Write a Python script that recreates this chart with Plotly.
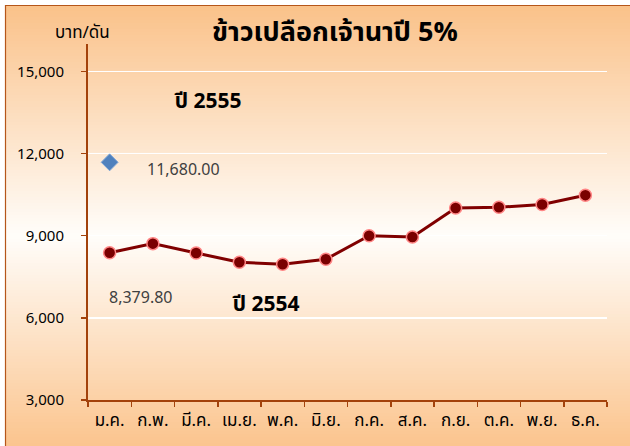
import plotly.graph_objects as go

months = ["ม.ค.", "ก.พ.", "มี.ค.", "เม.ย.", "พ.ค.", "มิ.ย.", "ก.ค.", "ส.ค.", "ก.ย.", "ต.ค.", "พ.ย.", "ธ.ค."]
price_2554 = [8379.80, 8710, 8370, 8030, 7960, 8140, 9000, 8950, 10010, 10040, 10140, 10480]
price_2555 = [11680.00]
y_ticks = [3000, 6000, 9000, 12000, 15000]

W, H = 630, 446
L, R, T, B = 88, 607, 44, 400  # plot area in pixels


def px(x):
    return (x - L) / (R - L)


def py(y):
    return (B - y) / (B - T)


def hex2rgb(h):
    h = h.lstrip('#')
    return tuple(int(h[i:i + 2], 16) for i in (0, 2, 4))


stops = [(0.0, '#FAC28A'), (0.52, '#FFFDFA'), (1.0, '#FBC48D')]


def grad(t):
    for (a, ca), (b, cb) in zip(stops[:-1], stops[1:]):
        if a <= t <= b:
            f = (t - a) / (b - a)
            c1, c2 = hex2rgb(ca), hex2rgb(cb)
            return 'rgb(%d,%d,%d)' % tuple(round(c1[i] + (c2[i] - c1[i]) * f) for i in range(3))
    return stops[-1][1]


shapes = []
top_px, bot_px = 5, H
step = 3
y = top_px
while y < bot_px:
    t = (y - top_px) / (bot_px - top_px)
    shapes.append(dict(type='rect', xref='paper', yref='paper', layer='below',
                       x0=px(5), x1=px(W + 2), y0=py(min(y + step + 0.5, bot_px)), y1=py(y),
                       fillcolor=grad(t), line=dict(width=0)))
    y += step
# outer chart border (left and top)
shapes.append(dict(type='path', xref='paper', yref='paper', layer='below',
                   path='M %f %f L %f %f L %f %f' % (px(5.5), py(H + 2), px(5.5), py(5.5), px(W + 2), py(5.5)),
                   line=dict(color='#B5561A', width=1.2)))

fig = go.Figure()
fig.add_trace(go.Scatter(
    x=months, y=price_2554, mode='lines+markers',
    line=dict(color='#800000', width=3),
    marker=dict(symbol='circle', size=12, color='#7A0000', line=dict(color='#FF8585', width=1.5)),
    showlegend=False, hoverinfo='skip'))
fig.add_trace(go.Scatter(
    x=months[:1], y=price_2555, mode='markers',
    marker=dict(symbol='diamond', size=13, color='#4F81BD', line=dict(color='#7FA6D6', width=1)),
    showlegend=False, hoverinfo='skip'))

thai = "Tahoma, 'Noto Sans Thai', 'Noto Sans', 'DejaVu Sans', sans-serif"
ann = [
    dict(text="<b>ข้าวเปลือกเจ้านาปี 5%</b>", x=px(335), y=py(33), size=27, color='#000000'),
    dict(text="บาท/ดัน", x=px(82), y=py(33), size=17, color='#000000'),
    dict(text="<b>ปี 2555</b>", x=px(207), y=py(101), size=21, color='#000000'),
    dict(text="<b>ปี 2554</b>", x=px(265), y=py(304), size=21, color='#000000'),
    dict(text=f"{price_2555[0]:,.2f}", x=px(183), y=py(170), size=16, color='#404040'),
    dict(text=f"{price_2554[0]:,.2f}", x=px(141), y=py(298), size=16, color='#404040'),
]
annotations = [dict(text=a['text'], x=a['x'], y=a['y'], xref='paper', yref='paper',
                    xanchor='center', yanchor='middle', showarrow=False,
                    font=dict(family=thai, size=a['size'], color=a['color'])) for a in ann]

fig.update_layout(
    width=W, height=H,
    margin=dict(l=L, r=W - R, t=T, b=H - B, pad=0, autoexpand=False),
    paper_bgcolor='#FFFFFF', plot_bgcolor='rgba(0,0,0,0)',
    font=dict(family=thai, color='#000000'),
    shapes=shapes, annotations=annotations,
    xaxis=dict(type='category', range=[-0.5, 11.5], showgrid=False, zeroline=False,
               showline=True, linecolor='#A3420B', linewidth=2, automargin=False,
               ticks='outside', tickson='boundaries', ticklen=5, tickcolor='#A3420B', tickwidth=1.5,
               ticklabelstandoff=4, tickangle=0,
               tickfont=dict(size=17, color='#000000', family=thai), fixedrange=True),
    yaxis=dict(range=[3000, 16000], tickvals=y_ticks, tickformat=',d', automargin=False,
               showgrid=True, gridcolor='#FFFFFF', gridwidth=1.5, zeroline=False,
               showline=True, linecolor='#A3420B', linewidth=2,
               ticks='outside', ticklen=5, tickcolor='#A3420B', tickwidth=1.5,
               ticklabelstandoff=14,
               tickfont=dict(size=15, color='#000000', family=thai), fixedrange=True),
)

fig.write_html("out.html", config={'displayModeBar': False, 'staticPlot': True},
               post_script="document.body.style.margin='0px';document.body.style.overflow='hidden';")
